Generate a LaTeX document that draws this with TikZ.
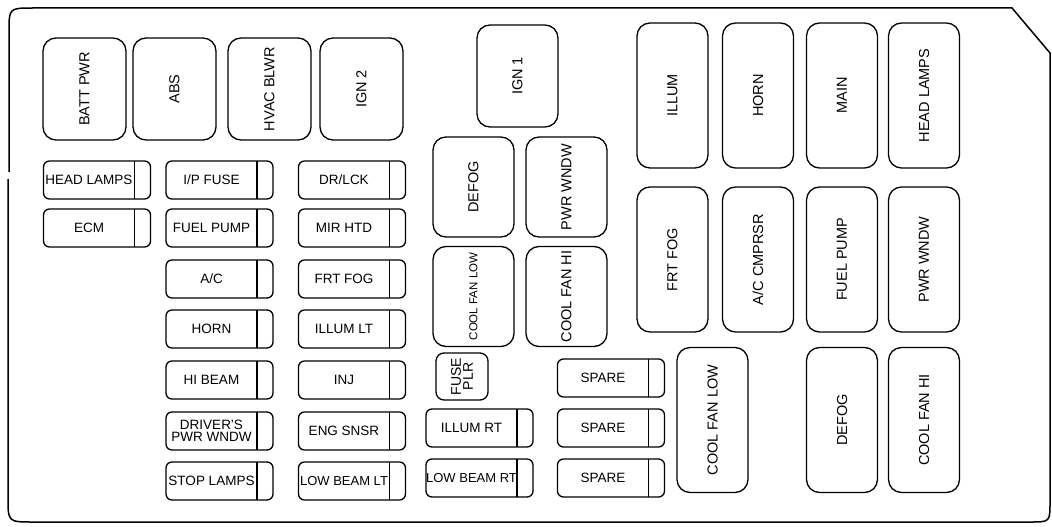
\documentclass[tikz,border=0pt]{standalone}
\usepackage{fontspec}
\setmainfont{Liberation Sans}
\newcommand{\fuselabel}[1]{\makebox[91pt]{#1}\hspace*{16pt}}
\tikzset{
  box line/.style={line width=1.3pt},
  relay/.style={draw,box line,rounded corners=13pt,rotate=90,inner sep=0pt,
    font=\fontsize{14.5}{15}\selectfont},
  tallrelay/.style={relay,minimum width=102pt,minimum height=83pt},
  midrelay/.style={relay,minimum width=100pt,minimum height=81pt},
  longrelay/.style={relay,minimum width=145pt,minimum height=71pt},
  fuse/.style={draw,box line,rounded corners=6pt,minimum width=107pt,
    minimum height=38pt,inner xsep=0pt,font=\fontsize{13.5}{13}\selectfont,
    path picture={\draw[box line]
      ([xshift=-16pt]path picture bounding box.north east) --
      ([xshift=-16pt]path picture bounding box.south east);}}
}
\begin{document}
\begin{tikzpicture}[x=1pt,y=-1pt]
  \useasboundingbox (0,0) rectangle (1052,527);
  % housing outline
  \draw[line width=1.5pt] (9,172) -- (9,32) .. controls (9,8) .. (33,8)
    -- (1012,8) -- (1050,53) -- (1050,502) .. controls (1050,522) .. (1030,522)
    -- (33,522) .. controls (8,522) .. (8,497) -- (8,179);
  % relays, top left
  \foreach \name/\txt/\x in {battpwr/BATT PWR/84.5, abs/ABS/174.5,
      hvacblwr/HVAC BLWR/269.5, igntwo/IGN 2/361.5}
    \node[tallrelay] (\name) at (\x,89) {\txt};
  % relays, middle
  \node[relay,minimum width=102pt,minimum height=81pt] (ignone) at (517.5,76) {IGN 1};
  \node[midrelay] (defogmid) at (473.5,187) {DEFOG};
  \node[midrelay] (pwrwndwmid) at (566.5,187) {PWR WNDW};
  \node[midrelay,font=\fontsize{11.5}{12}\selectfont] (coolfanlowmid) at (473.5,296.5) {COOL FAN LOW};
  \node[midrelay] (coolfanhimid) at (566.5,296.5) {COOL FAN HI};
  \node[relay,rounded corners=8pt,minimum width=47pt,minimum height=52pt,
    align=center,font=\fontsize{14}{12}\selectfont] (fuseplr) at (462,376.5) {FUSE\\PLR};
  % relays, right
  \foreach \name/\txt/\x/\y in {illum/ILLUM/672.5/95.5, horn/HORN/758/95.5,
      main/MAIN/842/95.5, headlamps/HEAD LAMPS/924/95.5,
      frtfog/FRT FOG/672.5/259.5, accmprsr/{A/C CMPRSR}/758/259.5,
      fuelpump/FUEL PUMP/842/259.5, pwrwndw/PWR WNDW/924/259.5,
      coolfanlow/COOL FAN LOW/712.5/420, defog/DEFOG/842/420,
      coolfanhi/COOL FAN HI/924/420}
    \node[longrelay] (\name) at (\x,\y) {\txt};
  % mini fuses
  \foreach \name/\txt/\x/\y in {fhdlmp/HEAD LAMPS/97/180, fecm/ECM/97/228,
      fipfuse/{I/P FUSE}/219.5/180, ffuelpump/FUEL PUMP/219.5/228,
      fac/{A/C}/219.5/279, fhorn/HORN/219.5/329, fhibeam/HI BEAM/219.5/380,
      fstoplamps/STOP LAMPS/219.5/481,
      fdrlck/{DR/LCK}/352/180, fmirhtd/MIR HTD/352/228, ffrtfog/FRT FOG/352/279,
      fillumlt/ILLUM LT/352/329, finj/INJ/352/380, fengsnsr/ENG SNSR/352/431,
      fillumrt/ILLUM RT/479.5/428,
      fspareA/SPARE/611/378, fspareB/SPARE/611/428, fspareC/SPARE/611/478}
    \node[fuse] (\name) at (\x,\y) {\fuselabel{\txt}};
  \node[fuse] (fdrvwndw) at (219.5,431) {\fuselabel{\shortstack{DRIVER'S\\PWR WNDW}}};
  \node[fuse,font=\fontsize{13}{13}\selectfont] (flowbeamlt) at (352,481) {\fuselabel{LOW BEAM LT}};
  \node[fuse,font=\fontsize{13}{13}\selectfont] (flowbeamrt) at (479.5,478) {\fuselabel{LOW BEAM RT}};
\end{tikzpicture}
\end{document}
